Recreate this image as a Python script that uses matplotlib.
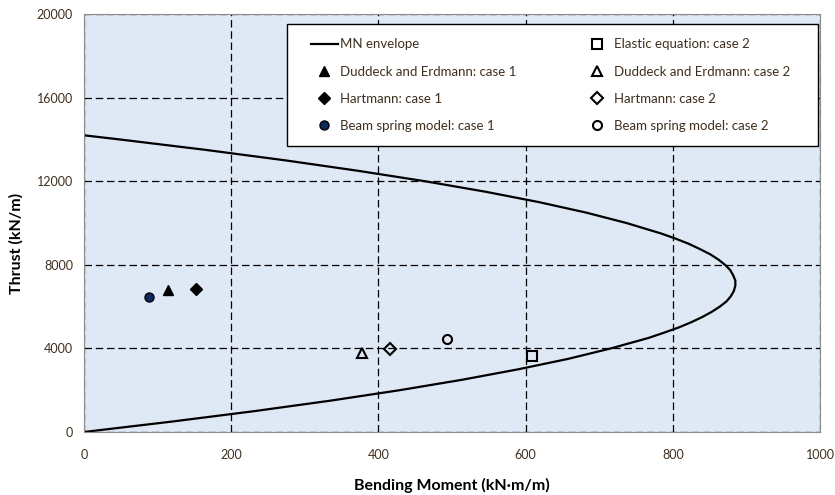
import numpy as np
import matplotlib
matplotlib.use("Agg")
import matplotlib.pyplot as plt
from matplotlib.patches import Rectangle

plt.rcParams['font.family'] = ['Lato', 'DejaVu Sans']

# MN envelope (bending moment, thrust)
env_moment = [0, 120, 232, 335, 429, 514, 590, 658, 716, 767, 788, 808, 825, 840, 853, 864,
              873, 879, 883, 885, 885, 882, 878, 871, 862, 851, 837, 822, 804, 784, 737,
              682, 618, 545, 463, 372, 273, 165, 48, 0]
env_thrust = [0, 500, 1000, 1500, 2000, 2500, 3000, 3500, 4000, 4500, 4750, 5000, 5250, 5500, 5750, 6000,
              6250, 6500, 6750, 7000, 7250, 7500, 7750, 8000, 8250, 8500, 8750, 9000, 9250, 9500, 10000,
              10500, 11000, 11500, 12000, 12500, 13000, 13500, 14000, 14196]

# case 1 results
de_case1 = (114, 6790)
hart_case1 = (152, 6840)
beam_case1 = (88, 6460)

# case 2 results
elastic_case2 = (609, 3640)
de_case2 = (378, 3780)
hart_case2 = (416, 3970)
beam_case2 = (493, 4450)

txt_color = '#3f2f1f'

fig = plt.figure(figsize=(8.35, 4.95), dpi=100)
ax = fig.add_axes([0.1006, 0.1273, 0.8814, 0.8444])
ax.set_facecolor('#dfe8f5')

ax.grid(True, color='black', linestyle=(0, (6, 3)), linewidth=0.9)
ax.set_axisbelow(True)

h_env, = ax.plot(env_moment, env_thrust, color='black', lw=1.6, solid_joinstyle='round',
                 label='MN envelope')

ms = 6.5
h_el, = ax.plot(*elastic_case2, ls='none', marker='s', ms=ms, mfc='none', mec='black', mew=1.5,
                label='Elastic equation: case 2')
h_de1, = ax.plot(*de_case1, ls='none', marker='^', ms=ms + 1, mfc='black', mec='black',
                 label='Duddeck and Erdmann: case 1')
h_de2, = ax.plot(*de_case2, ls='none', marker='^', ms=ms + 1, mfc='none', mec='black', mew=1.5,
                 label='Duddeck and Erdmann: case 2')
h_h1, = ax.plot(*hart_case1, ls='none', marker='D', ms=ms - 0.5, mfc='black', mec='black',
                label='Hartmann: case 1')
h_h2, = ax.plot(*hart_case2, ls='none', marker='D', ms=ms - 0.5, mfc='none', mec='black', mew=1.5,
                label='Hartmann: case 2')
h_b1, = ax.plot(*beam_case1, ls='none', marker='o', ms=ms, mfc='#0b2a5e', mec='black', mew=1,
                label='Beam spring model: case 1')
h_b2, = ax.plot(*beam_case2, ls='none', marker='o', ms=ms, mfc='none', mec='black', mew=1.5,
                label='Beam spring model: case 2')

ax.set_xlim(0, 1000)
ax.set_ylim(0, 20000)
ax.set_xticks(np.arange(0, 1001, 200))
ax.set_yticks(np.arange(0, 20001, 4000))
ax.tick_params(length=0, labelsize=9, labelcolor=txt_color)
ax.tick_params(axis='x', pad=12)
ax.tick_params(axis='y', pad=8)
for s in ax.spines.values():
    s.set_color('#8c8c8c')

ax.set_xlabel('Bending Moment (kN·m/m)', fontsize=11.5, fontweight='bold', labelpad=12.5)
ax.set_ylabel('Thrust (kN/m)', fontsize=11.5, fontweight='bold')
ax.yaxis.set_label_coords(-0.082, 0.452)

# legend box drawn separately, legend entries placed inside it
frame = Rectangle((0.276, 0.684), 0.721, 0.292, transform=ax.transAxes,
                  facecolor='white', edgecolor='black', lw=1.0, zorder=4)
ax.add_patch(frame)

handles = [h_env, h_de1, h_h1, h_b1, h_el, h_de2, h_h2, h_b2]
leg = ax.legend(handles=handles, ncol=2, loc='lower left', mode='expand',
                bbox_to_anchor=(0.308, 0.718, 0.651, 0.236), fontsize=9.5,
                frameon=False, handlelength=2.05, handletextpad=0.2,
                labelspacing=1.15, borderpad=0, borderaxespad=0)
leg.set_zorder(5)
for t in leg.get_texts():
    t.set_color(txt_color)

fig.savefig('out.png', dpi=100)
